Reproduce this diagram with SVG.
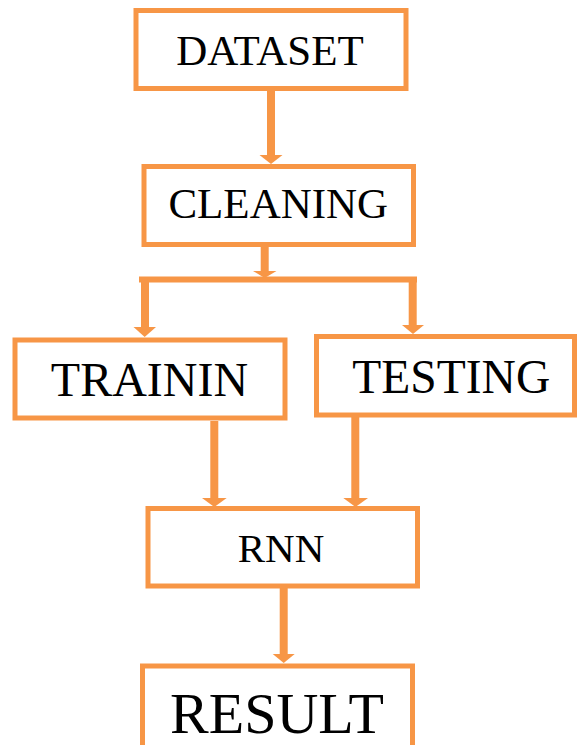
<svg xmlns="http://www.w3.org/2000/svg" width="578" height="745" viewBox="0 0 578 745">
<style>
.box{fill:#fff;stroke:#F79646;stroke-width:5}
.lbl{font-family:'Liberation Serif',serif;fill:#000;text-anchor:middle}
.shaft{stroke:#F79646;stroke-width:8;fill:none}
.bar{stroke:#F79646;stroke-width:6;fill:none}
.head{fill:#F79646}
</style>
<rect width="578" height="745" fill="#fff"/>
<g id="connectors">
<line class="shaft" x1="271" y1="91" x2="271" y2="156"/>
<polygon class="head" points="259.5,155 282.5,155 271,164"/>
<line class="shaft" x1="264.7" y1="247" x2="264.7" y2="272"/>
<polygon class="head" points="253,271 276.5,271 264.7,278"/>
<line class="bar" x1="139" y1="279.5" x2="417" y2="279.5"/>
<line class="shaft" x1="145" y1="277" x2="145" y2="328"/>
<polygon class="head" points="133.5,327 156,327 144.7,337"/>
<line class="shaft" x1="412.7" y1="277" x2="412.7" y2="326"/>
<polygon class="head" points="402,325 424,325 413,334"/>
<line class="shaft" x1="214.3" y1="421" x2="214.3" y2="499"/>
<polygon class="head" points="202,498 226.7,498 214.3,507"/>
<line class="shaft" x1="355.3" y1="417" x2="355.3" y2="499"/>
<polygon class="head" points="343.3,498 368,498 355.5,507"/>
<line class="shaft" x1="283.7" y1="588" x2="283.7" y2="655"/>
<polygon class="head" points="272.7,654 294.7,654 283.7,663"/>
</g>
<g id="dataset">
<rect class="box" x="136" y="10.5" width="270" height="78"/>
<text class="lbl" x="270" y="65" font-size="43">DATASET</text>
</g>
<g id="cleaning">
<rect class="box" x="144" y="166.5" width="269.5" height="78"/>
<text class="lbl" x="278.3" y="218" font-size="43">CLEANING</text>
</g>
<g id="trainin">
<rect class="box" x="15" y="340" width="270" height="78"/>
<text class="lbl" x="149.5" y="396" font-size="48">TRAININ</text>
</g>
<g id="testing">
<rect class="box" x="316.5" y="336.5" width="258" height="78.5"/>
<text class="lbl" x="451.3" y="392.7" font-size="47.5">TESTING</text>
</g>
<g id="rnn">
<rect class="box" x="148" y="508.5" width="269.5" height="77.5"/>
<text class="lbl" x="281" y="561.7" font-size="41">RNN</text>
</g>
<g id="result">
<rect class="box" x="142.5" y="666" width="270" height="85"/>
<text class="lbl" x="277" y="733.3" font-size="58">RESULT</text>
</g>
</svg>
